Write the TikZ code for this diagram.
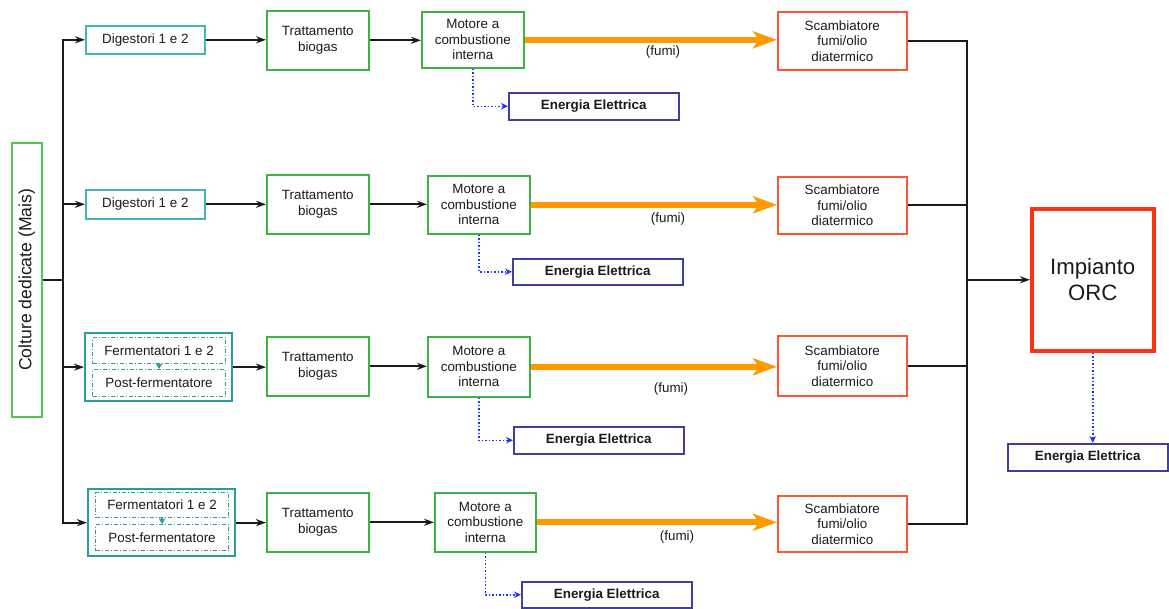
\documentclass[tikz,border=0pt]{standalone}
\usepackage{fontspec}
\setmainfont{Liberation Sans}
\usetikzlibrary{arrows.meta}

\definecolor{tealA}{HTML}{45B5B5}
\definecolor{tealB}{HTML}{2A9E9A}
\definecolor{greenB}{HTML}{3DB343}
\definecolor{greenL}{HTML}{55C455}
\definecolor{redB}{HTML}{FF5533}
\definecolor{orcR}{HTML}{FF3311}
\definecolor{navyB}{HTML}{40409A}
\definecolor{fumiO}{HTML}{FF9900}
\definecolor{elBlue}{HTML}{2233FF}
\definecolor{ink}{HTML}{1A1A1A}

\tikzset{
  base/.style={draw, rectangle, inner sep=0pt, anchor=north west, align=center,
    text=ink, font=\fontsize{13.4}{15.5}\selectfont},
  digbox/.style={base, draw=tealA, line width=1.6pt},
  gbox/.style={base, draw=greenB, line width=1.6pt},
  scbox/.style={base, draw=redB, line width=1.6pt},
  elbox/.style={base, draw=navyB, line width=1.5pt, font=\fontsize{13.4}{15.5}\selectfont\bfseries},
  grpbox/.style={draw=tealB, line width=2.3pt, rectangle, inner sep=0pt, anchor=north west},
  fbox/.style={base, draw=tealB, line width=1.1pt, dash pattern=on 4pt off 2pt on 1pt off 2pt},
  farr/.style={draw=tealB, line width=1.3pt, -{Stealth[length=6pt,width=7pt]}},
  conn/.style={draw=ink, line width=1.8pt},
  arr/.style={conn, -{Stealth[length=10pt,width=7pt]}},
  fumi/.style={draw=fumiO, line width=6pt, -{Stealth[length=24pt,width=17pt,inset=6pt]}},
  elec/.style={draw=elBlue, line width=1.5pt, dotted, -{Stealth[length=7pt,width=6.5pt]}},
  lbl/.style={font=\fontsize{13.4}{15.5}\selectfont, text=ink, inner sep=0pt},
}

\begin{document}
\begin{tikzpicture}[x=1pt,y=-1pt]
\useasboundingbox (0,0) rectangle (1169,608);

% source of crops
\node[base, draw=greenL, line width=1.6pt, minimum width=30pt, minimum height=274pt] (col) at (11,142) {};
\node[rotate=90, font=\fontsize{17.6}{20}\selectfont, text=ink, inner sep=0pt] (colt) at (col.center) {Colture dedicate (Mais)};
\coordinate (tk) at (63,0);

% line 1
\node[digbox, minimum width=119pt, minimum height=28pt] (d1) at (85,25) {Digestori 1 e 2};
\node[gbox, minimum width=102pt, minimum height=59pt] (t1) at (266,10) {Trattamento\\biogas};
\node[gbox, minimum width=102pt, minimum height=56pt] (m1) at (421,11) {Motore a\\combustione\\interna};
\node[scbox, minimum width=129pt, minimum height=58pt] (s1) at (777,11) {Scambiatore\\fumi/olio\\diatermico};
\node[elbox, minimum width=170pt, minimum height=27pt] (e1) at (508,92) {Energia Elettrica};
\node[lbl] (f1) at (663,52) {(fumi)};

% line 2
\node[digbox, minimum width=119pt, minimum height=29pt] (d2) at (85,189) {Digestori 1 e 2};
\node[gbox, minimum width=102pt, minimum height=59pt] (t2) at (266,174) {Trattamento\\biogas};
\node[gbox, minimum width=102pt, minimum height=58pt] (m2) at (427,175) {Motore a\\combustione\\interna};
\node[scbox, minimum width=129pt, minimum height=57pt] (s2) at (777,176) {Scambiatore\\fumi/olio\\diatermico};
\node[elbox, minimum width=170pt, minimum height=26pt] (e2) at (512,258) {Energia Elettrica};
\node[lbl] (f2) at (668,219) {(fumi)};

% line 3
\node[grpbox, minimum width=147pt, minimum height=68pt] (g3) at (84,332) {};
\node[fbox, minimum width=133pt, minimum height=26pt] (g3a) at (92,337) {Fermentatori 1 e 2};
\node[fbox, minimum width=133pt, minimum height=27pt] (g3b) at (92,369) {Post-fermentatore};
\node[gbox, minimum width=102pt, minimum height=59pt] (t3) at (266,336) {Trattamento\\biogas};
\node[gbox, minimum width=102pt, minimum height=60pt] (m3) at (427,336) {Motore a\\combustione\\interna};
\node[scbox, minimum width=129pt, minimum height=60pt] (s3) at (777,335) {Scambiatore\\fumi/olio\\diatermico};
\node[elbox, minimum width=170pt, minimum height=27pt] (e3) at (513,426) {Energia Elettrica};
\node[lbl] (f3) at (671,389) {(fumi)};

% line 4
\node[grpbox, minimum width=147pt, minimum height=67pt] (g4) at (87,488) {};
\node[fbox, minimum width=133pt, minimum height=25pt] (g4a) at (95,492) {Fermentatori 1 e 2};
\node[fbox, minimum width=133pt, minimum height=26pt] (g4b) at (95,524) {Post-fermentatore};
\node[gbox, minimum width=102pt, minimum height=59pt] (t4) at (266,492) {Trattamento\\biogas};
\node[gbox, minimum width=101pt, minimum height=59pt] (m4) at (434,492) {Motore a\\combustione\\interna};
\node[scbox, minimum width=129pt, minimum height=56pt] (s4) at (777,495) {Scambiatore\\fumi/olio\\diatermico};
\node[elbox, minimum width=170pt, minimum height=26pt] (e4) at (521,581) {Energia Elettrica};
\node[lbl] (f4) at (677,537) {(fumi)};

% ORC plant
\node[base, draw=orcR, line width=3.5pt, minimum width=122pt, minimum height=142pt,
      font=\fontsize{22.2}{26}\selectfont] (orc) at (1030,207) {Impianto\\ORC};
\node[elbox, minimum width=160pt, minimum height=27pt] (e5) at (1007,443) {Energia Elettrica};
\coordinate (cx) at (967,0);

% distribution trunk
\draw[conn] (col.east) -- (col.east -| tk);
\draw[arr] (col.east -| tk) |- (d1.west);
\draw[arr] (col.east -| tk) |- (g4.west);
\draw[arr] (tk |- d2.west) -- (d2.west);
\draw[arr] (tk |- g3.west) -- (g3.west);

% inner fermenter links
\draw[farr] (g3a.south) -- (g3b.north);
\draw[farr] (g4a.south) -- (g4b.north);

% process chains
\foreach \a/\b in {d1/t1, t1/m1, d2/t2, t2/m2, g3/t3, t3/m3, g4/t4, t4/m4}
  \draw[arr] (\a.east) -- (\a.east -| \b.west);

% exhaust gases to exchangers
\foreach \m/\s in {m1/s1, m2/s2, m3/s3, m4/s4}
  \draw[fumi] (\m.east) -- (\m.east -| \s.west);

% electric output
\foreach \m/\e in {m1/e1, m2/e2, m3/e3, m4/e4}
  \draw[elec] (\m.south) |- (\e.west);
\draw[elec] (orc.south) -- (orc.south |- e5.north);

% collector to ORC
\draw[conn] (s1.east) -- (s1.east -| cx) -- (cx |- s4.east) -- (s4.east);
\draw[conn] (s2.east) -- (s2.east -| cx);
\draw[conn] (s3.east) -- (s3.east -| cx);
\draw[arr] (cx |- orc.west) -- (orc.west);
\end{tikzpicture}
\end{document}
